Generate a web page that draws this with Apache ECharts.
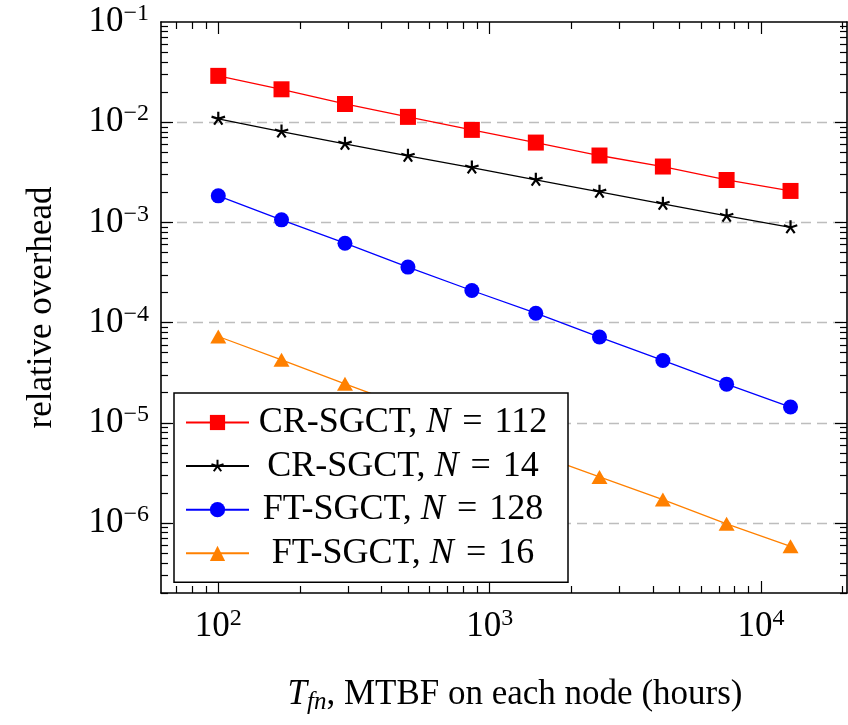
<!DOCTYPE html>
<html>
<head>
<meta charset="utf-8">
<script src="https://cdn.jsdelivr.net/npm/echarts@6/dist/echarts.min.js"></script>
<style>
  html, body { margin: 0; padding: 0; background: #fff; }
  #chart { width: 848px; height: 725px; }
</style>
</head>
<body>
<div id="chart"></div>
<script>
// MTBF per node (hours) at which each configuration was evaluated
const mtbfHours = [100, 171, 293, 500, 860, 1480, 2540, 4350, 7470, 12850];

// Relative overhead for each scheme / process count
const crSgct112 = [0.0290, 0.0213, 0.0152, 0.0113, 0.00838, 0.00626, 0.00465, 0.00361, 0.00265, 0.00206];
const crSgct14  = [0.0108, 0.00805, 0.00608, 0.00461, 0.00352, 0.00266, 0.00202, 0.00153, 0.00116, 0.00089];
const ftSgct128 = [0.00184, 0.00106, 0.00062, 0.000358, 0.000209, 0.000124, 7.17e-5, 4.19e-5, 2.43e-5, 1.435e-5];
const ftSgct16  = [7.26e-5, 4.25e-5, 2.45e-5, 1.43e-5, 8.4e-6, 4.9e-6, 2.88e-6, 1.71e-6, 9.8e-7, 5.85e-7];

const seriesScheme = ['CR-SGCT', 'CR-SGCT', 'FT-SGCT', 'FT-SGCT'];
const seriesProcs = [112, 14, 128, 16];

// Tick labels (powers of ten)
const xMajorTicks = [1e2, 1e3, 1e4];
const yMajorTicks = [1e-6, 1e-5, 1e-4, 1e-3, 1e-2, 1e-1];
const yGridTicks = [1e-6, 1e-5, 1e-4, 1e-3, 1e-2];

// Axis extents
const xMin = 61.5, xMax = 20750;
const yMin = 2.0e-7, yMax = 0.1;

const FONT = 'Liberation Serif';

// minor ticks at 2..9 times each power of ten inside [lo, hi]
function minorTicks(lo, hi) {
  const out = [];
  const e0 = Math.floor(Math.log10(lo)), e1 = Math.ceil(Math.log10(hi));
  for (let e = e0; e <= e1; e++) {
    for (let m = 2; m <= 9; m++) {
      const v = m * Math.pow(10, e);
      if (v >= lo && v <= hi) out.push(v);
    }
  }
  return out;
}
const xMinorTicks = minorTicks(xMin, xMax);
const yMinorTicks = minorTicks(yMin, yMax);

function powLabel(v) {
  const e = Math.round(Math.log10(v));
  return '{b|10}{s|' + (e < 0 ? '\u2212' : '') + Math.abs(e) + '}';
}
const powRich = {
  b: { fontFamily: FONT, fontSize: 35, lineHeight: 40, color: '#000' },
  s: { fontFamily: FONT, fontSize: 24, lineHeight: 30, verticalAlign: 'top', color: '#000' }
};

const frameLine = { show: true, onZero: false, lineStyle: { color: '#000', width: 1.6 } };
const noLine = { show: false, onZero: false };

function tickAxis(kind, position, ticks, len, withFrame, extra) {
  const base = {
    type: 'log',
    position: position,
    min: kind === 'x' ? xMin : yMin,
    max: kind === 'x' ? xMax : yMax,
    axisLine: withFrame ? frameLine : noLine,
    axisTick: { show: true, inside: true, length: len, customValues: ticks,
                lineStyle: { color: '#000', width: 1.2 } },
    axisLabel: { show: false },
    splitLine: { show: false },
    minorTick: { show: false },
    minorSplitLine: { show: false }
  };
  return Object.assign(base, extra || {});
}

const xAxes = [
  tickAxis('x', 'bottom', xMajorTicks, 12, true, {
    axisLabel: { show: true, customValues: xMajorTicks, margin: 14, formatter: powLabel, rich: powRich },
    name: '{i|T}{sub|fn}{t|, MTBF on each node (hours)}',
    nameLocation: 'middle',
    nameGap: 82,
    nameTextStyle: {
      padding: [0, 0, 0, 22],
      rich: {
        i: { fontFamily: FONT, fontSize: 35, fontStyle: 'italic', lineHeight: 40, color: '#000' },
        sub: { fontFamily: FONT, fontSize: 25, fontStyle: 'italic', lineHeight: 28, verticalAlign: 'bottom', color: '#000' },
        t: { fontFamily: FONT, fontSize: 35, lineHeight: 40, color: '#000' }
      }
    }
  }),
  tickAxis('x', 'bottom', xMinorTicks, 7, false),
  tickAxis('x', 'top', xMajorTicks, 12, true),
  tickAxis('x', 'top', xMinorTicks, 7, false)
];

const yAxes = [
  tickAxis('y', 'left', yGridTicks, 12, true, {
    axisLabel: { show: true, customValues: yMajorTicks, margin: 12, formatter: powLabel, rich: powRich },
    splitLine: { show: true, lineStyle: { color: '#bdbdbd', width: 1.3, type: [10, 6] } },
    name: 'relative overhead',
    nameLocation: 'middle',
    nameGap: 102,
    nameTextStyle: { fontFamily: FONT, fontSize: 35, color: '#000' }
  }),
  tickAxis('y', 'left', yMinorTicks, 7, false),
  tickAxis('y', 'right', yGridTicks, 12, true),
  tickAxis('y', 'right', yMinorTicks, 7, false)
];

// five-ray asterisk; the two zero-length moves pad the box so the rays sit inside it
const starPath = 'path://M-12,-12L-12,-12M12,12L12,12' +
  'M0,0L0,-10M0,0L-9.51,-3.09M0,0L-5.88,8.09M0,0L5.88,8.09M0,0L9.51,-3.09';

const seriesValues = [crSgct112, crSgct14, ftSgct128, ftSgct16];
const seriesColors = ['#ff0000', '#000000', '#0000ff', '#ff8000'];
const seriesSymbols = ['rect', starPath, 'circle', 'triangle'];
const seriesSymbolSizes = [16, 17, 15, [16, 14]];

const names = seriesScheme.map((s, i) => s + ', N = ' + seriesProcs[i]);

const series = seriesValues.map((vals, i) => ({
  name: names[i],
  type: 'line',
  xAxisIndex: 0,
  yAxisIndex: 0,
  data: mtbfHours.map((x, k) => [x, vals[k]]),
  symbol: seriesSymbols[i],
  symbolSize: seriesSymbolSizes[i],
  showSymbol: true,
  lineStyle: { color: seriesColors[i], width: 1.3 },
  itemStyle: i === 1
    ? { color: seriesColors[i], borderColor: seriesColors[i], borderWidth: 2.2 }
    : { color: seriesColors[i], borderWidth: 0 },
  emphasis: { disabled: true },
  z: 2 + i
}));

const legendText = { fontFamily: FONT, fontSize: 36, lineHeight: 30, color: '#000', align: 'center' };

const option = {
  animation: false,
  backgroundColor: '#fff',
  grid: { left: 161, right: 1, top: 22, bottom: 132, outerBoundsMode: 'none' },
  xAxis: xAxes,
  yAxis: yAxes,
  legend: {
    z: 20,
    orient: 'vertical',
    left: 174,
    top: 393,
    padding: [11.5, 16, 11, 11],
    itemGap: 7.6,
    itemWidth: 63,
    itemHeight: 19,
    backgroundColor: '#fff',
    borderColor: '#000',
    borderWidth: 1.5,
    selectedMode: false,
    data: names.map((n, i) => ({
      name: n,
      itemStyle: i === 1 ? { borderWidth: 2, borderColor: '#000' } : { borderWidth: 0 }
    })),
    formatter: function (name) {
      const i = names.indexOf(name);
      return '{t|' + seriesScheme[i] + ', }{n|N}{t|\u2004=\u2004' + seriesProcs[i] + '}';
    },
    textStyle: {
      width: 298,
      lineHeight: 30,
      rich: {
        t: legendText,
        n: Object.assign({}, legendText, { fontStyle: 'italic' })
      }
    }
  },
  series: series
};

const chart = echarts.init(document.getElementById('chart'), null, { renderer: 'canvas' });
chart.setOption(option);
</script>
</body>
</html>
